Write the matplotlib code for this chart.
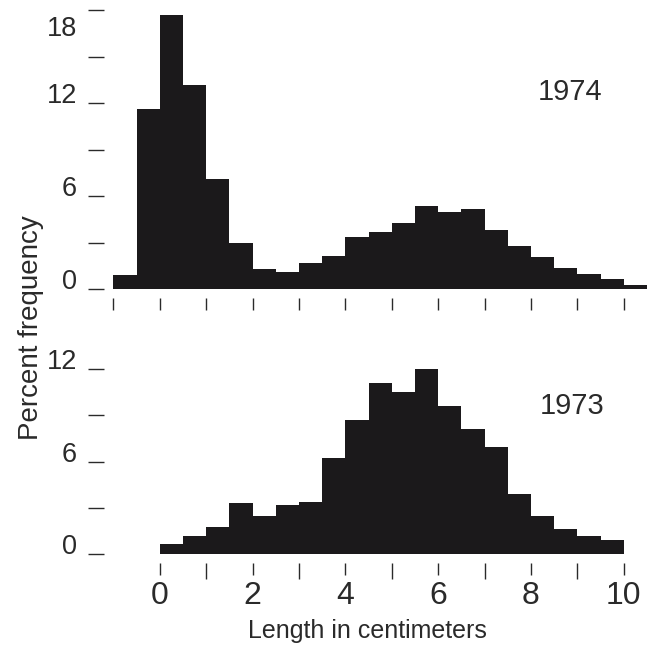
import numpy as np
import matplotlib
matplotlib.use("Agg")
import matplotlib.pyplot as plt
from matplotlib.transforms import ScaledTranslation

plt.rcParams['font.family'] = ['Liberation Sans', 'DejaVu Sans']

# bin left edges (cm) and percent frequency per 0.5 cm bin
edges_1974 = np.arange(-1.0, 10.5, 0.5)
freq_1974 = [0.9, 11.6, 17.7, 13.2, 7.1, 3.0, 1.3, 1.1, 1.7, 2.15, 3.4, 3.7,
             4.3, 5.4, 5.0, 5.2, 3.8, 2.8, 2.05, 1.4, 1.0, 0.65, 0.25]

edges_1973 = np.arange(0.0, 10.0, 0.5)
freq_1973 = [0.65, 1.15, 1.75, 3.3, 2.45, 3.2, 3.35, 6.25, 8.7, 11.1,
             10.5, 12.0, 9.6, 8.1, 6.95, 3.9, 2.5, 1.6, 1.2, 0.9]

top_yticks = [0, 3, 6, 9, 12, 15, 18]
top_ylabels = ['0', '', '6', '', '12', '', '18']
bot_yticks = [0, 3, 6, 9, 12]
bot_ylabels = ['0', '', '6', '', '12']
bot_xticks = [0, 2, 4, 6, 8, 10]
bot_xminor = [1, 3, 5, 7, 9]

BAR = '#1b191b'
INK = '#2a2a2a'


def style_axes(ax):
    for s in ax.spines.values():
        s.set_visible(False)
    ax.spines['left'].set_position(('outward', 6.5))
    ax.spines['bottom'].set_position(('outward', 6.5))
    ax.set_xlim(-1, 10.6)
    ax.tick_params(axis='y', length=11.5, width=1.0, pad=8, labelsize=19.5,
                   colors=INK)
    ax.tick_params(axis='x', which='both', width=1.0, colors=INK)


fig = plt.figure(figsize=(6.52, 6.47), dpi=100)

ax1 = fig.add_axes([0.1738, 0.5529, 0.8255, 0.4432])
ax1.bar(edges_1974, freq_1974, width=0.5, align='edge', color=BAR, linewidth=0)
style_axes(ax1)
ax1.set_ylim(0, 18.5)
ax1.set_xticks(range(-1, 11))
ax1.set_xticklabels([])
ax1.tick_params(axis='x', length=8.6)
ax1.set_yticks(top_yticks)
ax1.set_yticklabels(top_ylabels)
plt.setp(ax1.get_yticklabels(), va='baseline')
lab18 = ax1.get_yticklabels()[-1]
lab18.set_va('top')
lab18.set_transform(lab18.get_transform()
                    + ScaledTranslation(0, -0.06, fig.dpi_scale_trans))
ax1.text(0.874, 0.858, '1974', transform=fig.transFigure, ha='center',
         va='center', fontsize=21, color=INK)

ax2 = fig.add_axes([0.1738, 0.1437, 0.8255, 0.3094])
ax2.bar(edges_1973, freq_1973, width=0.5, align='edge', color=BAR, linewidth=0)
style_axes(ax2)
ax2.set_ylim(0, 13)
ax2.set_xticks(bot_xticks)
ax2.set_xticklabels([str(t) for t in bot_xticks])
ax2.set_xticks(bot_xminor, minor=True)
ax2.tick_params(axis='x', which='major', length=8.6, pad=4, labelsize=23)
ax2.tick_params(axis='x', which='minor', length=11.5)
ax2.set_yticks(bot_yticks)
ax2.set_yticklabels(bot_ylabels)
plt.setp(ax2.get_yticklabels(), va='baseline')
ax2.text(0.877, 0.3725, '1973', transform=fig.transFigure, ha='center',
         va='center', fontsize=21, color=INK)

fig.text(0.048, 0.493, 'Percent frequency', rotation=90, ha='center',
         va='center', fontsize=20, color=INK)
fig.text(0.563, 0.0139, 'Length in centimeters', ha='center', va='baseline',
         fontsize=18, color=INK)

fig.savefig('out.png', dpi=100, facecolor='white')
